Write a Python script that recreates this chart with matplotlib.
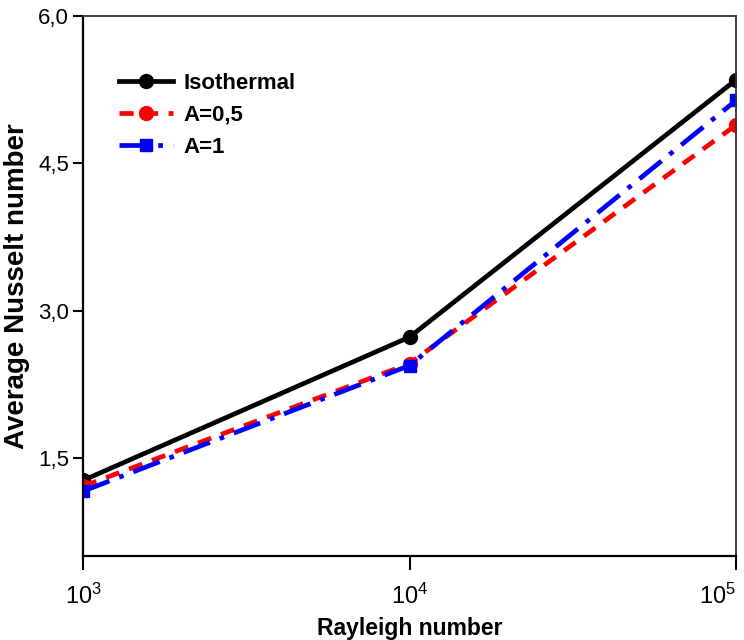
import matplotlib.pyplot as plt
from matplotlib.ticker import FixedLocator, FuncFormatter

plt.rcParams['font.family'] = ['Liberation Sans', 'DejaVu Sans']
plt.rcParams['mathtext.default'] = 'regular'

rayleigh = [1e3, 1e4, 1e5]
nu_isothermal = [1.27, 2.73, 5.35]
nu_a05 = [1.21, 2.46, 4.89]
nu_a1 = [1.16, 2.44, 5.14]

fig = plt.figure(figsize=(7.44, 6.4), dpi=100)
ax = fig.add_axes([0.1116, 0.13125, 0.8777, 0.84375])

ax.plot(rayleigh, nu_isothermal, color='black', lw=3.4, ls='-',
        marker='o', ms=10, label='Isothermal')
ax.plot(rayleigh, nu_a05, color='red', lw=3.4, ls=(0, (3, 2.2)),
        marker='o', ms=10, label='A=0,5')
ax.plot(rayleigh, nu_a1, color='blue', lw=3.4, ls=(0, (6, 2.2, 1, 2.2)),
        marker='s', ms=9, label='A=1')

ax.set_xscale('log')
ax.set_xlim(1e3, 1e5)
ax.set_ylim(0.5, 6.0)
ax.xaxis.set_major_locator(FixedLocator(rayleigh))
ax.xaxis.set_minor_locator(FixedLocator([]))
ax.set_yticks([1.5, 3.0, 4.5, 6.0])
ax.yaxis.set_major_formatter(FuncFormatter(lambda v, p: f'{v:.1f}'.replace('.', ',')))

ax.tick_params(axis='both', direction='out', width=1.5, color='black')
ax.tick_params(axis='x', length=10, pad=10, labelsize=17)
ax.tick_params(axis='y', length=7, pad=3, labelsize=16)
for side in ['left', 'bottom']:
    ax.spines[side].set_linewidth(1.6)
for side in ['top', 'right']:
    ax.spines[side].set_linewidth(1.3)
    ax.spines[side].set_color('#333333')

# keep the last decade label inside the figure
fig.canvas.draw()
ax.get_xticklabels()[-1].set_horizontalalignment('right')

ax.set_xlabel('Rayleigh number', fontsize=16.5, fontweight='bold', labelpad=6)
ax.set_ylabel('Average Nusselt number', fontsize=20, fontweight='bold', labelpad=6)

ax.legend(loc='upper left', bbox_to_anchor=(0.025, 0.932), frameon=False,
          prop={'weight': 'bold', 'size': 16}, handlelength=2.4,
          labelspacing=0.5, handletextpad=0.5)

fig.savefig('out.png', dpi=100)
